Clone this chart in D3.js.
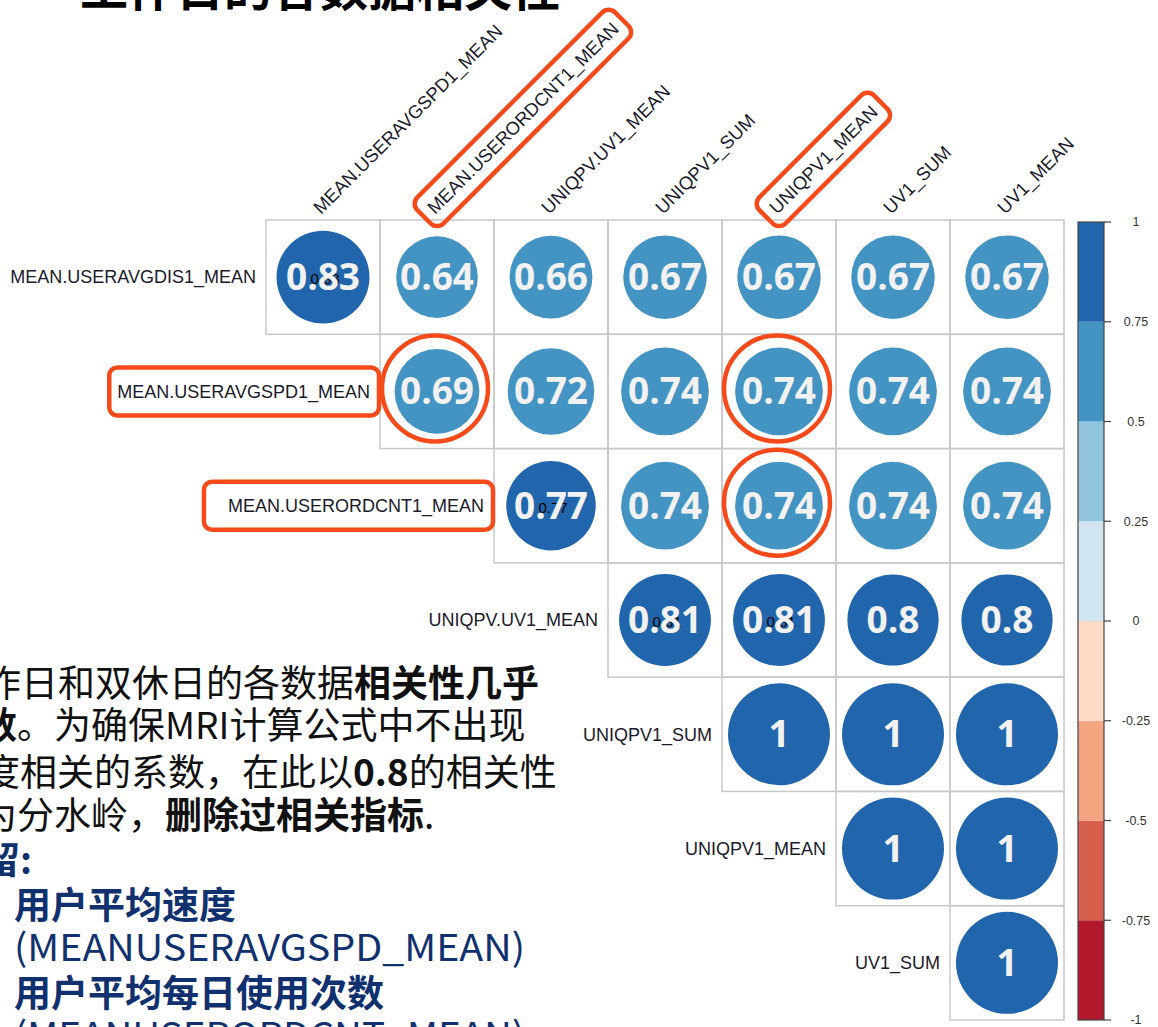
<!DOCTYPE html>
<html><head><meta charset="utf-8">
<script src="https://cdn.jsdelivr.net/npm/d3@7"></script>
<style>html,body{margin:0;padding:0;background:#fff;overflow:hidden}</style>
</head><body>
<svg id="chart" width="1158" height="1027"></svg>
<script>
// ---------- data ----------
const rowLabels = ["MEAN.USERAVGDIS1_MEAN","MEAN.USERAVGSPD1_MEAN","MEAN.USERORDCNT1_MEAN","UNIQPV.UV1_MEAN","UNIQPV1_SUM","UNIQPV1_MEAN","UV1_SUM"];
const colLabels = ["MEAN.USERAVGSPD1_MEAN","MEAN.USERORDCNT1_MEAN","UNIQPV.UV1_MEAN","UNIQPV1_SUM","UNIQPV1_MEAN","UV1_SUM","UV1_MEAN"];
// upper triangle: row i starts at column i
const row0 = [0.83,0.64,0.66,0.67,0.67,0.67,0.67];
const row1 = [0.69,0.72,0.74,0.74,0.74,0.74];
const row2 = [0.77,0.74,0.74,0.74,0.74];
const row3 = [0.81,0.81,0.8,0.8];
const row4 = [1,1,1];
const row5 = [1,1];
const row6 = [1];
const rowValues = [row0,row1,row2,row3,row4,row5,row6];
const legendTicks = [-1,-0.75,-0.5,-0.25,0,0.25,0.5,0.75,1];
const legendTickLabels = ["-1","-0.75","-0.5","-0.25","0","0.25","0.5","0.75","1"];
const palette = ["#B2182B","#D6604D","#F4A582","#FDDBC7","#D1E5F0","#92C5DE","#4393C3","#2166AC"];
const highlightedRows = ["MEAN.USERAVGSPD1_MEAN","MEAN.USERORDCNT1_MEAN"];
const highlightedCols = ["MEAN.USERORDCNT1_MEAN","UNIQPV1_MEAN"];
const highlightedCells = [[1,"MEAN.USERORDCNT1_MEAN"],[1,"UNIQPV1_MEAN"],[2,"UNIQPV1_MEAN"]];
const titleText = "工作日的各数据相关性";
const bodyLines = [
  [["作日和双休日的各数据",400],["相关性几乎",700]],
  [["数",700],["。为确保MRI计算公式中不出现",400]],
  [["度相关的系数，在此以",400],["0.8",700],["的相关性",400]],
  [["为分水岭，",400],["删除过相关指标",700],[".",400]]
];
const keepHead = "留:";
const keepLines = [["用户平均速度",700],["(MEANUSERAVGSPD_MEAN)",400],["用户平均每日使用次数",700],["(MEANUSERORDCNT_MEAN)",400]];

// ---------- setup ----------
const svg = d3.select("#chart");
const cells = [];
rowValues.forEach((vals,i)=>vals.forEach((v,k)=>cells.push({r:rowLabels[i], c:colLabels[i+k], ri:i, v})));

const x = d3.scaleBand().domain(colLabels).range([266,1064]);
const y = d3.scaleBand().domain(rowLabels).range([220,1020]);
const bw = x.bandwidth(), bh = y.bandwidth();
const color = d3.scaleQuantize().domain([-1,1]).range(palette);
const rad = d3.scaleSqrt().domain([0,1]).range([0,51]);
const red = "#F64A1A";

// title (cut at top)
svg.append("text").attr("x",80).attr("y",6)
  .attr("font-family","'Noto Sans CJK SC'").attr("font-weight",700)
  .attr("font-size",48).attr("fill","#000").text(titleText);

// grid cells
const g = svg.append("g");
g.selectAll("rect.cell").data(cells).join("rect").attr("class","cell")
  .attr("x",d=>x(d.c)).attr("y",d=>y(d.r)).attr("width",bw).attr("height",bh)
  .attr("fill","none").attr("stroke","#C8C8C8").attr("stroke-width",1.5);

// circles
g.selectAll("circle.val").data(cells).join("circle").attr("class","val")
  .attr("cx",d=>x(d.c)+bw/2).attr("cy",d=>y(d.r)+bh/2)
  .attr("r",d=>rad(Math.abs(d.v))).attr("fill",d=>color(d.v));

// small original labels (visible behind the overlay numbers)
g.selectAll("text.small").data(cells.filter(d=>d.v>=0.75 && d.v<1 && d.v!==0.8)).join("text").attr("class","small")
  .attr("x",d=>x(d.c)+bw/2+2).attr("y",d=>y(d.r)+bh/2+2).attr("dy","0.35em")
  .attr("text-anchor","middle").attr("font-family","'Liberation Sans',Arial")
  .attr("font-size",15).attr("fill","#000").text(d=>String(d.v));

// big numbers
g.selectAll("text.big").data(cells).join("text").attr("class","big")
  .attr("x",d=>x(d.c)+bw/2).attr("y",d=>y(d.r)+bh/2+13)
  .attr("text-anchor","middle").attr("font-family","'Open Sans'").attr("font-weight",700)
  .attr("font-size",37).attr("fill","#F2F2F2").text(d=>String(d.v));

// row labels
const rowFont = 18;
svg.selectAll("text.rowlab").data(rowLabels).join("text").attr("class","rowlab")
  .attr("x",(d,i)=>x(colLabels[i])-10).attr("y",d=>y(d)+bh/2).attr("dy","0.35em")
  .attr("text-anchor","end").attr("font-family","'Liberation Sans',Arial")
  .attr("font-size",rowFont).attr("fill","#1a1a2a").text(d=>d);

// column labels
const colG = svg.selectAll("g.collab").data(colLabels).join("g").attr("class","collab")
  .attr("transform",d=>`translate(${x(d)+bw/2-2},${215}) rotate(-45)`);
colG.append("text").attr("x",0).attr("y",0)
  .attr("font-family","'Liberation Sans',Arial").attr("font-size",18.4)
  .attr("fill","#1a1a2a").text(d=>d);

// ---------- legend ----------
const ly = d3.scaleLinear().domain([-1,1]).range([1020,222]);
const lx0 = 1078, lw = 26;
const bins = d3.range(palette.length).map(i=>({lo:legendTicks[i],hi:legendTicks[i+1],col:palette[i]}));
svg.selectAll("rect.bin").data(bins).join("rect").attr("class","bin")
  .attr("x",lx0).attr("y",d=>ly(d.hi)).attr("width",lw).attr("height",d=>ly(d.lo)-ly(d.hi))
  .attr("fill",d=>d.col);
svg.append("rect").attr("x",lx0).attr("y",ly(1)).attr("width",lw).attr("height",ly(-1)-ly(1))
  .attr("fill","none").attr("stroke","#444").attr("stroke-width",1.2);
svg.selectAll("line.tick").data(legendTicks).join("line").attr("class","tick")
  .attr("x1",lx0+lw).attr("x2",lx0+lw+7).attr("y1",d=>ly(d)).attr("y2",d=>ly(d))
  .attr("stroke","#444").attr("stroke-width",1.2);
svg.selectAll("text.tlab").data(legendTicks).join("text").attr("class","tlab")
  .attr("x",1136).attr("y",d=>ly(d)).attr("dy","0.35em").attr("text-anchor","middle")
  .attr("font-family","'Liberation Sans',Arial").attr("font-size",12.5).attr("fill","#333")
  .text((d,i)=>legendTickLabels[i]);

// ---------- annotations ----------
// rotated boxes around column labels
colG.filter(d=>highlightedCols.includes(d)).each(function(d){
  const t = d3.select(this).select("text").node().getComputedTextLength();
  d3.select(this).insert("rect","text").attr("x",-9).attr("y",-25).attr("width",t+18).attr("height",37)
    .attr("rx",9).attr("fill","none").attr("stroke",red).attr("stroke-width",4.5);
});
// boxes around row labels
svg.selectAll("text.rowlab").filter(d=>highlightedRows.includes(d)).each(function(d){
  const b = this.getBBox();
  const extraLeft = d===highlightedRows[1] ? 24 : 8;
  svg.append("rect").attr("x",b.x-extraLeft).attr("y",y(d)+bh/2-24)
    .attr("width",b.width+extraLeft+9).attr("height",48).attr("rx",8)
    .attr("fill","none").attr("stroke",red).attr("stroke-width",4.5);
});
// circles around cells
svg.selectAll("circle.hl").data(highlightedCells).join("circle").attr("class","hl")
  .attr("cx",d=>x(d[1])+bw/2-2).attr("cy",d=>y(rowLabels[d[0]])+bh/2-3).attr("r",53)
  .attr("fill","none").attr("stroke",red).attr("stroke-width",4.5);

// ---------- body text ----------
const body = svg.append("g").attr("font-family","'Noto Sans CJK SC'").attr("font-size",37);
const bodyX = [-16,-20,-17,-20];
const bodyY = [697,739,786,829];
const bodyW = [553,560,582,0];
bodyLines.forEach((parts,i)=>{
  const t = body.append("text").attr("x",bodyX[i]).attr("y",bodyY[i]).attr("fill","#111");
  parts.forEach(p=>t.append("tspan").attr("font-weight",p[1]).text(p[0]));
});
body.append("text").attr("x",-17).attr("y",874).attr("fill","#10306E").attr("font-weight",700).text(keepHead);
const keepY = [919,961,1007,1049];
keepLines.forEach((p,i)=>{
  const t = body.append("text").attr("x",14).attr("y",keepY[i]).attr("fill","#10306E")
    .attr("font-weight",p[1]).text(p[0]);
  if (p[1]===400) t.attr("textLength",511).attr("lengthAdjust","spacingAndGlyphs");
});
</script>
</body></html>
